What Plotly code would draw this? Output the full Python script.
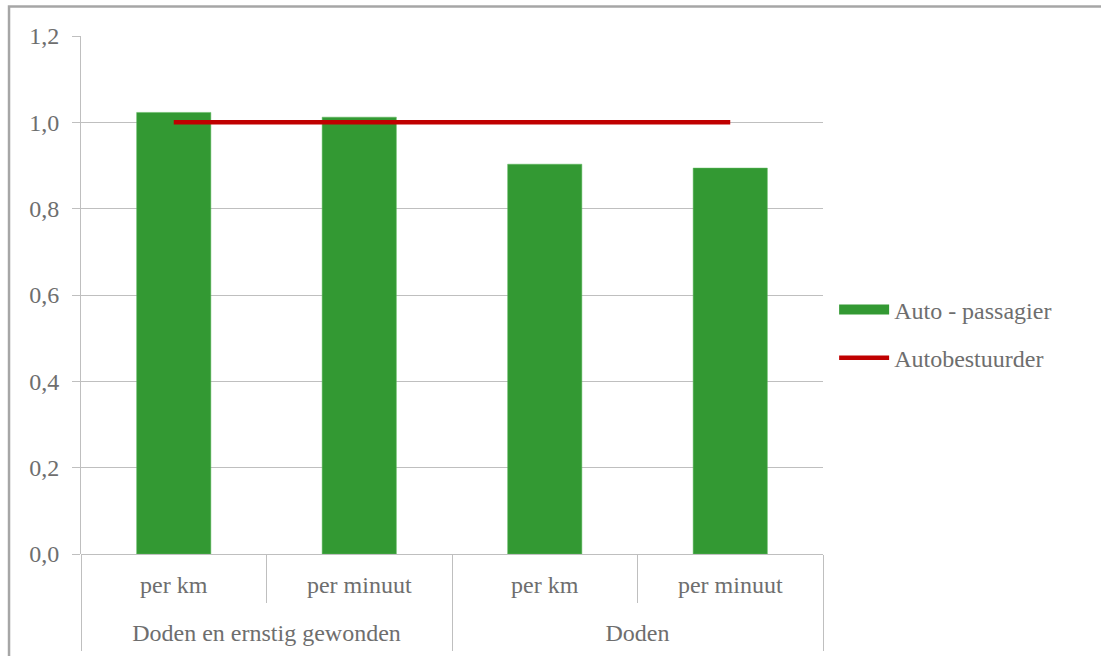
import plotly.graph_objects as go

# Category levels of the x axis
groups = ["Doden en ernstig gewonden", "Doden en ernstig gewonden", "Doden", "Doden"]
measures = ["per km", "per minuut", "per km", "per minuut"]

# Relative risk values
passagier = [1.023, 1.012, 0.903, 0.894]
bestuurder = [1.0, 1.0, 1.0, 1.0]

y_ticks = [0.0, 0.2, 0.4, 0.6, 0.8, 1.0, 1.2]
y_tick_text = ["0,0", "0,2", "0,4", "0,6", "0,8", "1,0", "1,2"]

FONT = "Liberation Serif"
GREY_TEXT = "#6e6e6e"
AXIS_GREY = "#bfbfbf"
GREEN = "#339933"
RED = "#c00000"
FS = 24

# category positions and group layout derived from the label lists
pos = list(range(len(measures)))
group_names = []
for g in groups:
    if g not in group_names:
        group_names.append(g)
group_centers = [sum(i for i, g in enumerate(groups) if g == n) /
                 groups.count(n) for n in group_names]
group_bounds = [-0.5]
for n in group_names:
    group_bounds.append(max(i for i, g in enumerate(groups) if g == n) + 0.5)
inner_bounds = [i + 0.5 for i in range(len(groups) - 1)
                if groups[i] == groups[i + 1]]

fig = go.Figure()
fig.add_trace(go.Bar(
    x=pos, y=passagier, name="Auto - passagier",
    marker=dict(color=GREEN, line=dict(color="#5cb85c", width=0.5)),
    showlegend=False,
))
fig.add_trace(go.Scatter(
    x=pos, y=bestuurder, name="Autobestuurder", mode="lines",
    line=dict(color=RED, width=4.5), showlegend=False,
))
# Legend entries (wide swatch for the bar series, line for the reference level)
fig.add_trace(go.Scatter(
    x=[None], y=[None], xaxis="x2", name="Auto - passagier", mode="lines",
    line=dict(color=GREEN, width=13), legendgroup="a",
))
fig.add_trace(go.Scatter(
    x=[None], y=[None], xaxis="x2", name="Autobestuurder", mode="lines",
    line=dict(color=RED, width=4.5), legendgroup="b",
))

x_range = [-0.5, len(measures) - 0.5]

fig.update_layout(
    width=1101, height=656,
    margin=dict(l=81, r=278, t=36, b=102),
    paper_bgcolor="white", plot_bgcolor="white",
    bargap=0.6,
    font=dict(family=FONT, size=FS, color=GREY_TEXT),
    showlegend=True,
    legend=dict(x=1.015, y=0.425, xanchor="left", yanchor="middle",
                font=dict(family=FONT, size=FS, color=GREY_TEXT),
                tracegroupgap=14, itemwidth=50, bgcolor="rgba(0,0,0,0)"),
    # inner level: measure labels with short separators
    xaxis=dict(
        range=x_range, tickvals=pos, ticktext=measures, automargin=False,
        showgrid=False, zeroline=False, showline=False, ticks="",
        ticklabelstandoff=14,
        minor=dict(tickvals=inner_bounds, ticks="outside", ticklen=48,
                   tickcolor=AXIS_GREY, tickwidth=1, showgrid=False),
        tickfont=dict(family=FONT, size=FS, color=GREY_TEXT),
    ),
    # outer level: group labels with full-height separators
    xaxis2=dict(
        range=x_range, overlaying="x", side="bottom", anchor="y",
        tickvals=group_centers, ticktext=group_names, automargin=False,
        showgrid=False, zeroline=False, showline=False, ticks="",
        ticklabelstandoff=62,
        minor=dict(tickvals=group_bounds, ticks="outside", ticklen=96,
                   tickcolor=AXIS_GREY, tickwidth=1, showgrid=False),
        tickfont=dict(family=FONT, size=FS, color=GREY_TEXT),
    ),
    yaxis=dict(
        range=[0, 1.2], tickvals=y_ticks, ticktext=y_tick_text, automargin=False,
        showgrid=True, gridcolor=AXIS_GREY, gridwidth=1,
        zeroline=True, zerolinecolor=AXIS_GREY, zerolinewidth=1,
        showline=True, linecolor=AXIS_GREY, linewidth=1,
        ticks="outside", ticklen=8, tickcolor=AXIS_GREY,
        ticklabelstandoff=8,
        tickfont=dict(family=FONT, size=FS, color=GREY_TEXT),
    ),
    shapes=[dict(type="rect", xref="paper", yref="paper",
                 x0=-0.097, y0=-0.3, x1=1.5, y1=1.057,
                 line=dict(color="#a6a6a6", width=2.5), fillcolor="rgba(0,0,0,0)",
                 layer="below")],
)

fig.write_html("out.html")
